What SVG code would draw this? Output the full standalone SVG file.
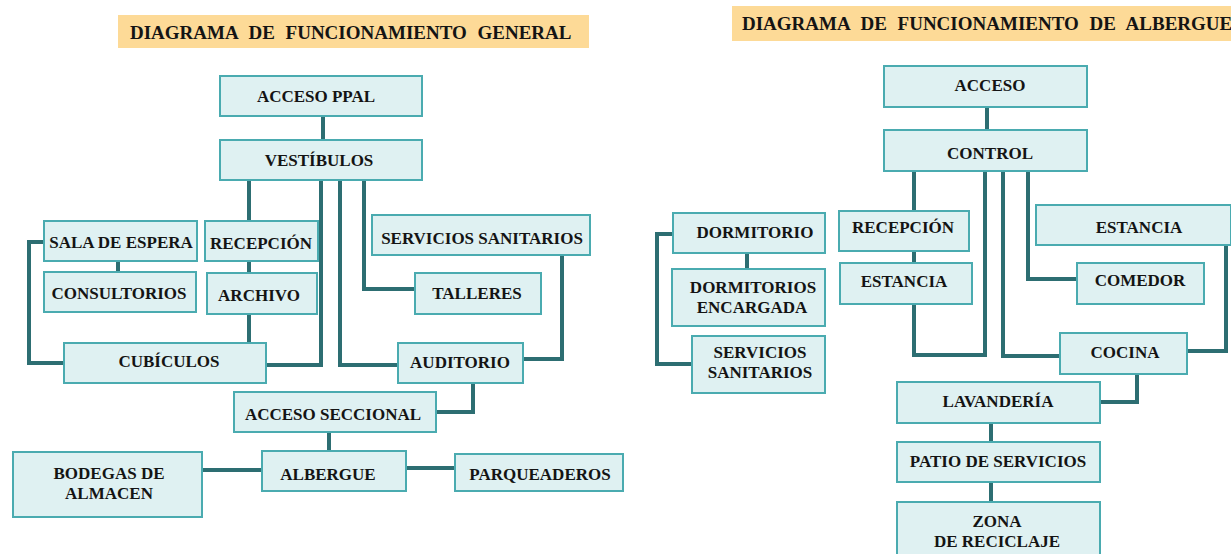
<svg xmlns="http://www.w3.org/2000/svg" width="1231" height="554" viewBox="0 0 1231 554">
<style>
.t{font-family:"Liberation Serif","Times New Roman",serif;font-weight:bold;font-size:17px;fill:#141414;text-anchor:middle}
.h{font-family:"Liberation Serif","Times New Roman",serif;font-weight:bold;font-size:19px;fill:#141414;word-spacing:6px}
.n{fill:#dff1f2;stroke:#4aabb0;stroke-width:2}
.ti{fill:#fdda97}
.c{fill:none;stroke:#2d6e72;stroke-width:4;stroke-linejoin:miter}
</style>
<rect width="1231" height="554" fill="#ffffff"/>
<g id="title-general"><rect class="ti" x="118" y="15" width="471" height="33"/><text class="h" x="130" y="39">DIAGRAMA DE FUNCIONAMIENTO GENERAL</text></g>
<g id="title-albergue"><rect class="ti" x="732" y="6" width="499" height="35"/><text class="h" x="742" y="30">DIAGRAMA DE FUNCIONAMIENTO DE ALBERGUE</text></g>
<g id="connectors">
<path class="c" d="M323 117V140"/>
<path class="c" d="M249 180V221"/>
<path class="c" d="M249 261V273"/>
<path class="c" d="M249 314V343"/>
<path class="c" d="M321 180V365H266"/>
<path class="c" d="M340 180V365H398"/>
<path class="c" d="M364 180V289H415"/>
<path class="c" d="M118 261V272"/>
<path class="c" d="M44 242H29V363H64"/>
<path class="c" d="M562 255V359H523"/>
<path class="c" d="M473 383V412H436"/>
<path class="c" d="M329 432V451"/>
<path class="c" d="M262 470H202"/>
<path class="c" d="M406 468H455"/>
<path class="c" d="M987 107V130"/>
<path class="c" d="M914 171V211"/>
<path class="c" d="M914 251V263"/>
<path class="c" d="M985 171V355H914V304"/>
<path class="c" d="M1003 171V356H1060"/>
<path class="c" d="M1028 171V279H1077"/>
<path class="c" d="M1226 245V351H1187"/>
<path class="c" d="M1137 374V402H1100"/>
<path class="c" d="M991 423V442"/>
<path class="c" d="M991 482V502"/>
<path class="c" d="M747 253V269"/>
<path class="c" d="M673 234H657V364H692"/>
</g>
<g id="acceso-ppal"><rect class="n" x="220" y="76" width="202" height="40"/><text class="t" x="316" y="102">ACCESO PPAL</text></g>
<g id="vestibulos"><rect class="n" x="220" y="140" width="202" height="40"/><text class="t" x="319" y="166">VESTÍBULOS</text></g>
<g id="sala-espera"><rect class="n" x="44" y="221" width="153" height="40"/><text class="t" x="121" y="248">SALA DE ESPERA</text></g>
<g id="recepcion"><rect class="n" x="205" y="221" width="113" height="40"/><text class="t" x="261" y="249">RECEPCIÓN</text></g>
<g id="consultorios"><rect class="n" x="44" y="272" width="152" height="40"/><text class="t" x="119" y="299">CONSULTORIOS</text></g>
<g id="archivo"><rect class="n" x="207" y="273" width="110" height="41"/><text class="t" x="259" y="301">ARCHIVO</text></g>
<g id="servicios-sanitarios"><rect class="n" x="372" y="215" width="218" height="40"/><text class="t" x="482" y="244">SERVICIOS SANITARIOS</text></g>
<g id="talleres"><rect class="n" x="415" y="273" width="126" height="41"/><text class="t" x="477" y="299">TALLERES</text></g>
<g id="cubiculos"><rect class="n" x="64" y="343" width="202" height="40"/><text class="t" x="169" y="367">CUBÍCULOS</text></g>
<g id="auditorio"><rect class="n" x="398" y="343" width="125" height="40"/><text class="t" x="460" y="368">AUDITORIO</text></g>
<g id="acceso-seccional"><rect class="n" x="234" y="392" width="202" height="40"/><text class="t" x="333" y="420">ACCESO SECCIONAL</text></g>
<g id="albergue"><rect class="n" x="262" y="451" width="144" height="40"/><text class="t" x="328" y="480">ALBERGUE</text></g>
<g id="bodegas"><rect class="n" x="13" y="452" width="189" height="65"/><text class="t" x="109" y="479">BODEGAS DE</text><text class="t" x="109" y="499">ALMACEN</text></g>
<g id="parqueaderos"><rect class="n" x="455" y="454" width="168" height="37"/><text class="t" x="540" y="480">PARQUEADEROS</text></g>
<g id="acceso"><rect class="n" x="884" y="66" width="203" height="41"/><text class="t" x="990" y="91">ACCESO</text></g>
<g id="control"><rect class="n" x="884" y="130" width="203" height="41"/><text class="t" x="990" y="159">CONTROL</text></g>
<g id="recepcion-alb"><rect class="n" x="839" y="211" width="130" height="40"/><text class="t" x="903" y="233">RECEPCIÓN</text></g>
<g id="estancia-1"><rect class="n" x="840" y="263" width="132" height="41"/><text class="t" x="904" y="287">ESTANCIA</text></g>
<g id="dormitorio"><rect class="n" x="673" y="213" width="152" height="40"/><text class="t" x="755" y="238">DORMITORIO</text></g>
<g id="dormitorios-encargada"><rect class="n" x="672" y="269" width="153" height="57"/><text class="t" x="753" y="293">DORMITORIOS</text><text class="t" x="752" y="313">ENCARGADA</text></g>
<g id="servicios-sanitarios-alb"><rect class="n" x="692" y="336" width="133" height="57"/><text class="t" x="760" y="358">SERVICIOS</text><text class="t" x="760" y="378">SANITARIOS</text></g>
<g id="estancia-2"><rect class="n" x="1036" y="205" width="195" height="40"/><text class="t" x="1139" y="233">ESTANCIA</text></g>
<g id="comedor"><rect class="n" x="1077" y="263" width="127" height="41"/><text class="t" x="1140" y="286">COMEDOR</text></g>
<g id="cocina"><rect class="n" x="1060" y="333" width="127" height="41"/><text class="t" x="1125" y="358">COCINA</text></g>
<g id="lavanderia"><rect class="n" x="897" y="382" width="203" height="41"/><text class="t" x="998" y="407">LAVANDERÍA</text></g>
<g id="patio-servicios"><rect class="n" x="897" y="442" width="203" height="40"/><text class="t" x="998" y="467">PATIO DE SERVICIOS</text></g>
<g id="zona-reciclaje"><rect class="n" x="897" y="502" width="203" height="56"/><text class="t" x="997" y="527">ZONA</text><text class="t" x="997" y="547">DE RECICLAJE</text></g>
</svg>
